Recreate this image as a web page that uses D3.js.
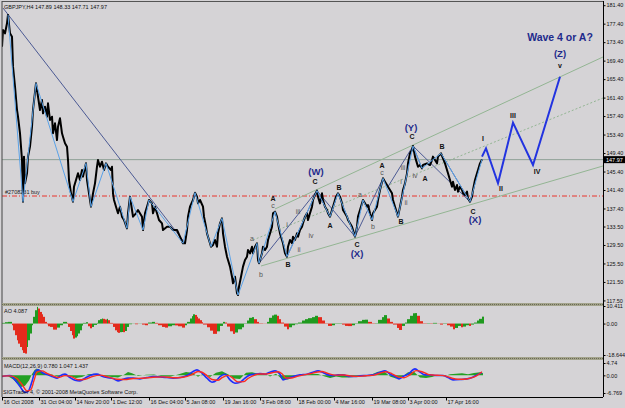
<!DOCTYPE html>
<html>
<head>
<meta charset="utf-8">
<script src="https://cdn.jsdelivr.net/npm/d3@7"></script>
<style>
html, body { margin: 0; padding: 0; background: #d5d3d6; }
svg { display: block; font-family: "Liberation Sans", Arial, sans-serif; }
</style>
</head>
<body>
<svg id="chart" width="625" height="408"></svg>
<script>
// ---- data ----
// price path, [bar, price]
const price = [[0,172.42],[1,176.03],[3,175.31],[5,177.48],[6,179.28],[8,175.31],[10,174.59],[11,168.10],[13,163.77],[15,158.72],[16,157.27],[18,153.67],[20,147.89],[21,138.87],[22,148.62],[23,142.84],[25,145.01],[26,148.62],[28,150.78],[30,155.11],[31,158.72],[34,164.49],[36,161.60],[38,158.72],[40,160.88],[41,157.99],[43,159.44],[45,157.27],[46,160.16],[48,156.55],[50,157.27],[51,153.67],[53,155.83],[55,152.22],[56,155.11],[58,156.91],[60,153.67],[61,152.94],[63,151.50],[65,150.78],[66,147.89],[67,143.56],[69,140.68],[71,138.87],[72,142.12],[74,143.56],[76,145.01],[78,143.56],[80,145.73],[81,144.29],[84,147.17],[85,143.56],[87,140.68],[89,137.79],[91,140.68],[93,142.84],[95,146.45],[96,147.89],[98,146.45],[100,147.53],[102,145.73],[104,147.17],[106,146.45],[109,145.73],[110,146.45],[111,140.68],[112,139.24],[114,137.79],[116,136.35],[118,137.79],[120,135.63],[122,134.91],[125,133.10],[126,136.35],[128,139.96],[130,137.07],[131,135.63],[134,136.35],[136,137.07],[140,135.63],[141,132.74],[143,136.35],[145,137.79],[147,139.24],[150,138.51],[151,136.35],[153,137.79],[155,136.35],[157,134.91],[160,134.19],[161,132.74],[165,133.46],[168,133.46],[171,132.74],[175,132.74],[178,131.30],[181,129.86],[183,129.86],[185,132.74],[186,135.63],[188,137.79],[191,139.24],[193,140.82],[195,139.96],[196,138.51],[198,139.24],[201,137.79],[202,135.63],[204,133.46],[205,132.02],[207,130.58],[209,129.13],[211,129.50],[213,130.58],[215,129.13],[216,132.02],[218,134.19],[220,135.27],[221,132.02],[223,129.13],[225,126.97],[226,126.25],[228,124.81],[230,122.64],[231,121.20],[233,122.64],[235,119.04],[236,118.67],[237,120.48],[239,122.64],[241,124.81],[243,126.25],[245,126.97],[246,128.41],[248,127.69],[250,129.13],[251,127.69],[253,129.13],[255,129.86],[256,126.25],[257,125.53],[260,127.69],[261,129.13],[263,128.41],[265,129.13],[266,130.58],[268,132.02],[270,133.46],[271,136.35],[273,136.71],[275,135.63],[276,134.19],[278,132.02],[280,130.58],[281,129.86],[283,127.69],[285,126.97],[286,129.13],[288,130.58],[290,129.86],[291,131.30],[293,130.58],[295,132.02],[296,131.30],[298,132.74],[300,133.46],[301,134.19],[303,135.63],[305,136.35],[306,134.91],[308,136.35],[310,137.79],[311,139.24],[313,140.32],[315,141.26],[316,139.96],[318,138.51],[320,140.68],[321,139.24],[323,137.79],[325,137.07],[326,136.35],[328,135.63],[330,137.07],[331,137.79],[334,139.96],[336,140.68],[338,139.96],[340,138.51],[341,137.07],[343,136.35],[345,135.63],[346,134.91],[348,134.19],[350,133.46],[351,132.74],[353,131.30],[355,133.46],[356,135.63],[358,137.07],[360,138.51],[361,139.24],[363,138.51],[365,137.79],[366,138.15],[368,136.35],[370,134.91],[371,136.35],[373,137.07],[375,137.79],[376,139.24],[378,141.40],[381,143.93],[383,143.20],[385,142.48],[386,142.12],[388,141.40],[390,140.68],[391,139.24],[393,137.79],[395,136.35],[396,135.63],[398,137.79],[400,139.96],[401,141.40],[403,142.84],[405,145.01],[406,147.17],[408,149.34],[410,150.06],[411,150.92],[413,148.62],[415,147.17],[416,146.45],[418,146.81],[420,146.09],[421,146.81],[425,147.17],[428,146.81],[430,147.89],[431,148.62],[433,147.89],[435,147.17],[436,148.62],[439,149.34],[441,148.25],[443,147.17],[445,145.73],[446,145.01],[448,143.56],[450,142.12],[451,143.20],[453,141.40],[455,142.48],[456,141.04],[458,142.12],[460,141.40],[461,140.68],[463,140.32],[465,141.04],[466,139.60],[468,138.87],[470,139.96],[471,141.40],[473,143.56],[475,145.01],[476,145.73],[478,147.17],[480,148.04]];

// zigzag pivots (light blue)
const zigzag = [[6,179.28],[21,138.87],[34,164.49],[71,138.87],[84,147.17],[89,137.79],[104,147.17],[125,133.10],[128,139.96],[141,132.74],[147,139.24],[181,129.86],[193,140.82],[209,129.13],[220,135.27],[236,118.67],[255,129.86],[257,125.53],[273,136.71],[285,126.97],[315,141.26],[328,135.63],[336,140.68],[353,131.30],[361,139.24],[370,134.91],[381,143.93],[396,135.63],[411,150.92],[420,146.09],[439,149.34],[468,138.87],[480,148.04]];

// wave structure lines (navy), [bar1, price1, bar2, price2]
const waveLines = [[1,180.79,183,129.93],[257,125.53,315,141.26],[285,126.97,315,141.26],[315,141.26,328,135.63],[315,141.26,353,131.30],[336,140.68,353,131.30],[353,131.30,381,143.93],[386,142.12,411,150.92],[411,150.92,420,146.09],[411,150.92,468,138.87],[439,149.34,468,138.87]];

// trend channel (upper, middle dotted, lower)
const channelUpper = [[273,137.29],[601,170.19]];
const channelMid = [[251,130.58],[601,161.31]];
const channelLower = [[259,124.95],[601,146.60]];

// projected waves I..V
const projection = [[480,148.61],[484,150.43],[496,142.85],[511,155.97],[531,146.81],[558,165.92]];

const bidPrice = 147.97;
const orderPrice = 140.10;

const priceTicks = [181.4,177.4,173.4,169.4,165.4,161.4,157.4,153.4,149.4,145.4,141.4,137.4,133.5,129.5,125.5,121.5,117.5];

const timeBars = [0,37,73,109,147,183,221,258,295,332,370,406,444];
const timeLabels = ["16 Oct 2008","31 Oct 04:00","14 Nov 20:00","1 Dec 12:00","16 Dec 04:00","5 Jan 08:00","19 Jan 16:00","3 Feb 08:00","18 Feb 00:00","4 Mar 16:00","19 Mar 08:00","3 Apr 00:00","17 Apr 16:00"];

// wave labels: [text, bar, price, kind]
const waveLabels = [
  ["(W)",314,145.51,"big"],["C",313,143.2,"cap"],["(X)",355,127.55,"big"],["C",355,129.5,"cap"],
  ["(Y)",409,154.9,"big"],["C",410,152.94,"cap"],["(X)",473,135.06,"big"],["C",471,136.85,"cap"],
  ["(Z)",558,171.05,"big"],["v",558,168.24,"cap"],
  ["A",271,139.6,"cap"],["c",271,137.94,"small"],["a",250,130.95,"small"],["b",259,123.22,"small"],["B",286,125.17,"cap"],
  ["i",285,134.04,"small"],["ii",297,128.56,"small"],["iii",296,136.7,"small"],["iv",309,131.66,"small"],
  ["A",328,133.82,"cap"],["B",337,141.98,"cap"],["a",358,140.32,"small"],["b",371,133.46,"small"],
  ["A",380,146.6,"cap"],["c",380,145.14,"small"],["B",399,134.69,"cap"],
  ["i",399,143.2,"small"],["ii",404,138.74,"small"],["iii",401,146.23,"small"],["iv",413,144.5,"small"],
  ["A",423,143.93,"cap"],["B",440,150.92,"cap"],
  ["I",481,152.44,"cap"],["II",499,141.62,"cap"],["III",511,157.63,"cap"],["IV",535,145.51,"cap"]
];

// Awesome Oscillator, [bar, value]
const ao = [[0,0.4],[3,0.8],[6,1.0],[10,-1.0],[11,-4.0],[13,-6.9],[15,-9.9],[16,-11.9],[18,-13.9],[20,-15.8],[21,-17.4],[23,-17.8],[25,-13.9],[26,-9.9],[28,-5.9],[30,-1.0],[31,4.0],[33,7.9],[35,9.9],[36,8.9],[38,6.9],[40,5.5],[41,4.0],[43,1.0],[45,-0.4],[46,-1.6],[48,-2.0],[51,-3.6],[55,-2.4],[58,-1.0],[61,1.0],[65,0.4],[66,-2.0],[68,-4.4],[70,-6.9],[71,-8.9],[73,-8.3],[75,-7.5],[76,-5.9],[78,-4.0],[80,-1.2],[81,0.4],[84,0.8],[86,-1.6],[88,-2.8],[90,-2.0],[92,-0.8],[95,0.4],[96,2.0],[98,2.6],[100,3.0],[101,2.8],[103,2.4],[105,2.8],[106,2.0],[108,0.4],[111,-2.0],[113,-4.0],[115,-5.1],[116,-5.5],[118,-5.1],[120,-5.0],[121,-5.1],[123,-4.4],[125,-2.0],[127,-0.4],[130,0.1],[133,-0.4],[136,0.1],[140,-0.6],[143,-1.0],[146,0.6],[150,1.0],[153,0.4],[156,-1.0],[160,-2.0],[163,-2.4],[166,-1.6],[170,-1.0],[173,-1.1],[176,-1.6],[180,-2.4],[183,-1.0],[185,1.0],[188,3.0],[190,4.4],[191,5.5],[193,5.1],[195,4.0],[196,3.0],[198,2.0],[200,0.8],[201,-0.6],[205,-2.2],[208,-4.2],[211,-6.1],[215,-4.6],[218,-1.4],[221,1.0],[223,0.6],[225,-1.8],[228,-4.6],[231,-6.1],[233,-5.3],[236,-3.4],[240,-2.2],[242,-0.2],[245,1.8],[247,3.4],[250,3.8],[252,2.6],[255,1.0],[257,0.2],[261,0.1],[265,1.0],[267,3.4],[270,4.8],[272,5.3],[275,4.6],[277,2.6],[279,0.6],[282,-1.8],[285,-3.4],[287,-2.2],[290,-1.0],[293,-0.4],[296,0.6],[300,1.8],[303,2.6],[306,3.2],[310,3.8],[313,4.6],[316,3.8],[320,1.8],[323,0.2],[326,-1.4],[330,-1.0],[333,-0.2],[336,0.2],[340,-0.6],[343,-1.4],[346,-1.5],[350,-1.0],[353,0.2],[356,1.4],[360,2.2],[363,2.3],[366,1.0],[370,-0.2],[373,0.2],[376,2.2],[380,3.8],[382,5.0],[385,3.0],[388,1.0],[391,-0.6],[395,-2.6],[397,-3.8],[400,-1.4],[403,0.6],[405,2.6],[408,4.6],[411,6.1],[413,6.2],[415,4.6],[418,1.4],[421,-0.2],[425,0.2],[428,-0.2],[431,0.4],[435,0.1],[438,-0.6],[441,-0.2],[445,-1.0],[448,-1.8],[451,-3.4],[453,-2.6],[456,-1.4],[459,-2.2],[461,-1.8],[464,-1.0],[467,-1.4],[469,-0.6],[472,0.6],[475,1.8],[477,2.8],[480,4.1]];

// MACD main (blue), signal (red), histogram (green), [bar, value]
const macdMain = [[0,-0.46],[8,-0.08],[13,-1.73],[18,-4.3],[23,-6.5],[26,-6.2],[30,-2.4],[33,1.46],[36,2.1],[41,0.84],[46,0.19],[51,-0.58],[55,-1.08],[58,-0.19],[63,0.46],[68,-0.84],[73,-1.84],[78,-2.1],[83,-1.08],[88,-0.08],[95,0.46],[100,-0.31],[105,-0.84],[111,-1.23],[116,-2.1],[121,-1.46],[126,-1.08],[131,-1.08],[138,-1.34],[145,-0.84],[151,-0.46],[158,-0.58],[165,-0.84],[171,-1.08],[178,-0.84],[185,-0.08],[190,1.23],[195,2.1],[200,0.84],[205,-1.09],[210,-2.62],[215,-1.73],[218,-0.45],[223,0.45],[228,-1.73],[233,-3.01],[238,-2.62],[243,-1.09],[248,0.19],[253,0.45],[258,0.70],[263,0.45],[268,1.22],[273,1.73],[278,0.45],[281,-1.73],[286,-1.09],[291,-0.45],[298,0.19],[305,0.45],[311,1.22],[316,1.73],[321,1.09],[326,0.19],[331,-0.06],[336,0.19],[341,0.19],[348,-0.45],[353,-0.45],[358,-0.19],[365,-0.06],[371,0.19],[378,1.22],[383,1.73],[388,0.45],[393,-0.45],[397,-1.34],[401,-0.45],[406,0.45],[413,2.50],[418,1.22],[423,0.19],[428,0.19],[435,-0.06],[441,-0.06],[446,-0.83],[451,-1.73],[458,-1.60],[465,-1.34],[470,-0.83],[475,0.19],[480,1.05]];
const macdSignal = [[0,-0.3],[8,-0.2],[15,-1.2],[20,-3.5],[25,-6.0],[29,-5.4],[32,-2.0],[35,1.2],[40,1.7],[45,0.8],[51,-0.2],[56,-0.8],[63,-0.1],[70,-0.6],[76,-1.7],[83,-1.5],[90,-0.5],[98,0.1],[106,-0.6],[115,-1.5],[123,-1.6],[131,-1.2],[141,-1.1],[151,-0.7],[161,-0.6],[171,-0.9],[181,-0.7],[190,0.3],[196,1.5],[200,1.2],[204,0.2],[210,-1.6],[216,-1.9],[220,-0.9],[226,0.0],[230,-0.8],[236,-2.5],[242,-2.4],[246,-1.2],[252,0.0],[258,0.5],[264,0.5],[270,1.0],[276,1.4],[280,0.6],[284,-1.0],[290,-1.0],[296,-0.3],[302,0.2],[308,0.6],[314,1.2],[320,1.5],[324,1.0],[330,0.3],[336,0.1],[342,0.15],[348,-0.2],[354,-0.4],[360,-0.3],[366,-0.1],[372,0.1],[378,0.8],[384,1.4],[390,0.6],[396,-0.6],[402,-0.9],[408,0.2],[414,1.8],[420,1.4],[426,0.4],[432,0.1],[438,0.0],[444,-0.3],[450,-1.1],[456,-1.5],[462,-1.5],[468,-1.1],[474,-0.3],[480,1.4]];
const macdHist = [[0,0],[6,-0.3],[11,-1.5],[15,-3.0],[19,-4.5],[23,-4.0],[27,-2.0],[30,0.5],[33,2.2],[36,2.5],[40,1.5],[44,0.5],[50,0.3],[56,-0.5],[62,0.4],[68,-0.3],[74,-1.0],[80,-0.6],[86,0.4],[94,0.6],[102,-0.2],[110,-0.6],[116,-0.8],[122,0.2],[126,1.3],[130,0.8],[136,-0.2],[144,0.2],[152,0.3],[160,-0.3],[168,-0.5],[176,0.3],[180,0.8],[184,1.3],[190,1.0],[196,-0.5],[202,0.8],[208,-0.6],[214,1.0],[220,1.6],[226,0.4],[232,-1.2],[238,-1.4],[244,1.0],[250,1.2],[256,0.6],[262,0.8],[268,-0.4],[274,0.6],[280,-1.5],[286,-1.6],[292,-0.6],[298,0.2],[304,0.3],[310,0.6],[316,0.5],[322,-0.3],[328,-1.0],[334,-0.4],[340,-0.8],[346,-0.8],[352,-0.6],[358,-0.2],[364,-0.3],[370,0.4],[376,1.4],[382,1.6],[388,-0.4],[394,-1.2],[400,-0.5],[406,1.2],[412,1.4],[418,-0.8],[424,-1.0],[430,-0.6],[436,0.1],[442,-0.3],[448,0.4],[454,0.6],[460,0.8],[466,0.4],[472,0.9],[478,1.2],[481,0.8]];

// ---- layout ----
const svg = d3.select("#chart");
const L = 2, R = 603;
const main = { top: 2, bottom: 302 };
const aoBox = { top: 306, bottom: 357 };
const mBox = { top: 360, bottom: 397 };

const x = d3.scaleLinear().domain([0, 601]).range([L, R]);
const y = d3.scaleLinear().domain([117.16, 182.09]).range([main.bottom, main.top]);
const yAO = d3.scaleLinear().domain([-18.644, 10.411]).range([355, 306]);
const yM = d3.scaleLinear().domain([-6.769, 4.74]).range([393, 363]);

svg.append("rect").attr("width", 625).attr("height", 408).attr("fill", "#d5d3d6");

const defs = svg.append("defs");
defs.append("clipPath").attr("id", "clipMain")
    .append("rect").attr("x", L).attr("y", main.top).attr("width", R - L).attr("height", main.bottom - main.top);

const g = svg.append("g").attr("clip-path", "url(#clipMain)");

const line = d3.line().x(d => x(d[0])).y(d => y(d[1]));

// horizontal lines
g.append("line").attr("x1", L).attr("x2", R).attr("y1", y(bidPrice)).attr("y2", y(bidPrice))
    .attr("stroke", "#8fa097").attr("stroke-width", 1);
g.append("line").attr("x1", L).attr("x2", R).attr("y1", y(orderPrice)).attr("y2", y(orderPrice))
    .attr("stroke", "#e8342c").attr("stroke-width", 1).attr("stroke-dasharray", "5,2,1,2");
g.append("text").attr("x", 5).attr("y", y(orderPrice) - 2)
    .attr("font-size", 5.5).attr("fill", "#222").text("#2708231 buy");

// channels
g.append("path").attr("d", line(channelUpper)).attr("fill", "none").attr("stroke", "#93b593").attr("stroke-width", 1);
g.append("path").attr("d", line(channelMid)).attr("fill", "none").attr("stroke", "#93b593").attr("stroke-width", 1).attr("stroke-dasharray", "2,2");
g.append("path").attr("d", line(channelLower)).attr("fill", "none").attr("stroke", "#93b593").attr("stroke-width", 1);

// wave lines
g.selectAll(".wl").data(waveLines).join("line")
    .attr("x1", d => x(d[0])).attr("y1", d => y(d[1]))
    .attr("x2", d => x(d[2])).attr("y2", d => y(d[3]))
    .attr("stroke", "#4c5a94").attr("stroke-width", 1);

// price
g.append("path").attr("d", line(price)).attr("fill", "none")
    .attr("stroke", "#000").attr("stroke-width", 2).attr("stroke-linejoin", "round");

// zigzag
g.append("path").attr("d", line(zigzag)).attr("fill", "none")
    .attr("stroke", "#5aa2e8").attr("stroke-width", 1);

// projection
g.append("path").attr("d", line(projection)).attr("fill", "none")
    .attr("stroke", "#2233e0").attr("stroke-width", 2);

// labels
const styles = {
    big: { size: 9.5, weight: "bold", fill: "#1e2a8c" },
    cap: { size: 7, weight: "bold", fill: "#111" },
    small: { size: 7, weight: "normal", fill: "#555" }
};
g.selectAll(".wlab").data(waveLabels).join("text")
    .attr("x", d => x(d[1])).attr("y", d => y(d[2]))
    .attr("text-anchor", "middle").attr("dominant-baseline", "central")
    .attr("font-size", d => styles[d[3]].size)
    .attr("font-weight", d => styles[d[3]].weight)
    .attr("fill", d => styles[d[3]].fill)
    .text(d => d[0]);

g.append("text").attr("x", x(558)).attr("y", y(174.52))
    .attr("text-anchor", "middle").attr("dominant-baseline", "central")
    .attr("font-size", 10.5).attr("font-weight", "bold").attr("fill", "#1e2a8c")
    .text("Wave 4 or A?");

svg.append("text").attr("x", 4).attr("y", 9).attr("font-size", 5.5).attr("fill", "#111")
    .text("GBPJPY,H4  147.89 148.33 147.71 147.97");

// ---- AO panel ----
const aoG = svg.append("g");
aoG.selectAll("rect").data(ao).join("rect")
    .attr("x", d => x(d[0]))
    .attr("width", (d, i) => i < ao.length - 1 ? x(ao[i + 1][0]) - x(d[0]) : 2)
    .attr("y", d => Math.min(yAO(0), yAO(d[1])))
    .attr("height", d => Math.abs(yAO(d[1]) - yAO(0)))
    .attr("fill", (d, i) => i > 0 && d[1] < ao[i - 1][1] ? "#e42a1c" : "#1f9a1f");
svg.append("text").attr("x", 4).attr("y", 313).attr("font-size", 5.5).attr("fill", "#111").text("AO 4.087");

// ---- MACD panel ----
const mG = svg.append("g");
mG.append("path")
    .attr("d", d3.area().x(d => x(d[0])).y0(yM(0)).y1(d => yM(d[1]))(macdHist))
    .attr("fill", "#23a023");
const mline = d3.line().x(d => x(d[0])).y(d => yM(d[1])).curve(d3.curveMonotoneX);
mG.append("path").attr("d", mline(macdMain)).attr("fill", "none").attr("stroke", "#1e2cff").attr("stroke-width", 1.6);
mG.append("path").attr("d", mline(macdSignal)).attr("fill", "none").attr("stroke", "#ff2a22").attr("stroke-width", 1.4);
svg.append("text").attr("x", 4).attr("y", 368).attr("font-size", 5.5).attr("fill", "#111").text("MACD(12,26,9) 0.780 1.047 1.437");
svg.append("text").attr("x", 3).attr("y", 394).attr("font-size", 5.5).attr("fill", "#111").text("SIGTrader 4, © 2001-2008 MetaQuotes Software Corp.");

// ---- frames and separators ----
svg.append("line").attr("x1", L).attr("x2", R).attr("y1", 1.5).attr("y2", 1.5).attr("stroke", "#555");
svg.append("line").attr("x1", L).attr("x2", L).attr("y1", 1).attr("y2", mBox.bottom).attr("stroke", "#444");
svg.append("line").attr("x1", R + 0.5).attr("x2", R + 0.5).attr("y1", 1).attr("y2", mBox.bottom).attr("stroke", "#000");
[303, 357].forEach(sy => {
    svg.append("rect").attr("x", L).attr("y", sy).attr("width", R - L).attr("height", 3).attr("fill", "#a3a38c");
    svg.append("line").attr("x1", L).attr("x2", R).attr("y1", sy + 1.5).attr("y2", sy + 1.5)
        .attr("stroke", "#6a6a55").attr("stroke-dasharray", "1,1");
});

// ---- right axes ----
function rightAxis(scale, values, fmt) {
    const a = svg.append("g").attr("transform", `translate(${R + 0.5},0)`)
        .call(d3.axisRight(scale).tickValues(values).tickSize(2).tickSizeOuter(0).tickPadding(1).tickFormat(fmt));
    a.select(".domain").remove();
    a.selectAll("text").attr("font-size", 5.5).attr("fill", "#111").attr("font-family", "Liberation Sans, Arial, sans-serif");
    a.selectAll("line").attr("stroke", "#000");
    return a;
}
rightAxis(y, priceTicks, d3.format(".2f"));
rightAxis(yAO, [10.411, 0, -18.644], d => d === 0 ? "0.00" : String(d));
rightAxis(yM, [4.74, 0, -6.769], d => d === 0 ? "0.00" : String(d));

// current price box
svg.append("rect").attr("x", R + 1).attr("y", y(bidPrice) - 3.5).attr("width", 21).attr("height", 7).attr("fill", "#000");
svg.append("text").attr("x", R + 3).attr("y", y(bidPrice)).attr("dominant-baseline", "central")
    .attr("font-size", 5.5).attr("fill", "#fff").text(bidPrice.toFixed(2));

// ---- bottom axis ----
const xa = svg.append("g").attr("transform", `translate(0,${mBox.bottom + 0.5})`)
    .call(d3.axisBottom(x).tickValues(timeBars).tickSize(3).tickSizeOuter(0).tickFormat((d, i) => timeLabels[i]));
xa.select(".domain").attr("stroke", "#000").attr("d", `M${L},0H${R}`);
xa.selectAll("line").attr("stroke", "#000");
xa.selectAll("text").attr("text-anchor", "start").attr("dx", 1).attr("y", 2.5)
    .attr("font-size", 5.5).attr("fill", "#111").attr("font-family", "Liberation Sans, Arial, sans-serif");
</script>
</body>
</html>
